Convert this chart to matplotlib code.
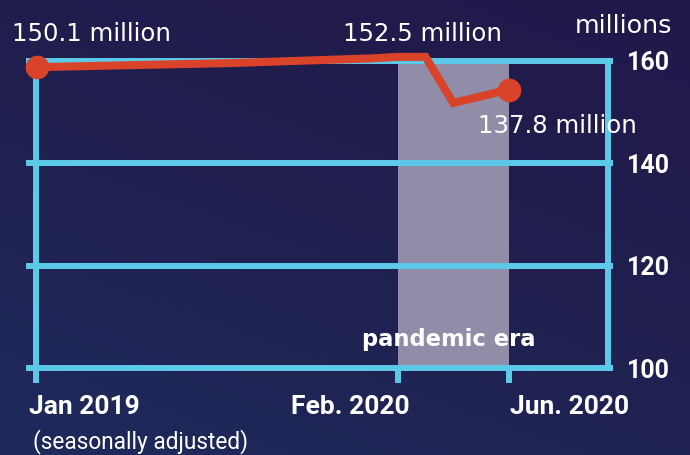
import numpy as np
import matplotlib
matplotlib.use("Agg")
import matplotlib.pyplot as plt
from matplotlib.colors import LinearSegmentedColormap

# ---------------- data ----------------
month_index = [0, 7, 12, 13, 14, 15, 16, 17]          # months since Jan 2019
employment = [158.8, 159.6, 160.5, 160.8, 160.8, 151.8, 153.1, 154.4]  # millions (as drawn)
y_ticks = [100, 120, 140, 160]
x_tick_pos = [0, 13, 17]
x_tick_labels = ["Jan 2019", "Feb. 2020", "Jun. 2020"]
pandemic_span = (13, 17)
annotations = ["150.1 million", "152.5 million", "137.8 million"]
unit_label = "millions"
note = "(seasonally adjusted)"
band_label = "pandemic era"

# ---------------- layout (pixel mapping) ----------------
W, H = 690, 455
X0_PX, X_PER = 37.0, 27.75        # px of month 0, px per month
Y160_PX, Y_PER = 61.0, 5.12       # px of value 160, px per unit

def px2x(px):
    return (px - X0_PX) / X_PER

def px2y(py):
    return 160 + (Y160_PX - py) / Y_PER

CYAN = "#5CC9E9"
RED = "#D8432A"
BAND = "#918CA8"
WHITE = "#FFFFFF"

fig = plt.figure(figsize=(W / 100, H / 100), dpi=100)
ax = fig.add_axes([0, 0, 1, 1])
xl = (px2x(0), px2x(W))
yl = (px2y(H), px2y(0))
ax.set_xlim(*xl)
ax.set_ylim(*yl)
ax.axis("off")

# background gradient
cmap = LinearSegmentedColormap.from_list("bg", ["#1E2A5C", "#20204F", "#22184A"])
gx, gy = np.meshgrid(np.linspace(0, 1, 200), np.linspace(0, 1, 200))
grad = 0.35 * gx + 0.65 * gy
ax.imshow(grad, cmap=cmap, extent=[xl[0], xl[1], yl[1], yl[0]], aspect="auto",
          zorder=0, origin="upper")

# pandemic band
ax.fill_between([pandemic_span[0], pandemic_span[1]], min(y_ticks), max(y_ticks),
                color=BAND, lw=0, zorder=1)

# grid lines
lw_grid = 4.3
ax.hlines(y_ticks, px2x(26), px2x(613), colors=CYAN, lw=lw_grid, zorder=2,
          capstyle="butt")
# left vertical (with Jan tick extension) and right vertical
ax.vlines(px2x(35.5), px2y(383), max(y_ticks), colors=CYAN, lw=lw_grid, zorder=2)
ax.vlines(px2x(607.5), min(y_ticks), max(y_ticks), colors=CYAN, lw=lw_grid, zorder=2)
# bottom ticks
ax.vlines(x_tick_pos[1:], px2y(383), min(y_ticks), colors=CYAN, lw=lw_grid, zorder=2)

# red line
ax.plot(month_index, employment, color=RED, lw=5.8, solid_joinstyle="miter",
        solid_capstyle="butt", zorder=4, clip_on=False)
ax.plot([month_index[0], month_index[-1]], [employment[0], employment[-1]],
        "o", color=RED, ms=16, zorder=5, clip_on=False)

# right tick labels
for t in y_ticks:
    ax.text(px2x(627), t - 9.5 / Y_PER, str(t), color=WHITE, fontsize=18,
            fontfamily="Roboto", fontweight="bold", ha="left", va="baseline", zorder=6)

ax.text(px2x(672), px2y(33), unit_label, color=WHITE, fontsize=18.3,
        ha="right", va="baseline", zorder=6)

# value annotations
ax.text(px2x(12), px2y(41), annotations[0], color=WHITE, fontsize=17.6,
        ha="left", va="baseline", zorder=6)
ax.text(px2x(343), px2y(41), annotations[1], color=WHITE, fontsize=17.6,
        ha="left", va="baseline", zorder=6)
ax.text(px2x(478), px2y(133), annotations[2], color=WHITE, fontsize=17.6,
        ha="left", va="baseline", zorder=6)

# band label
ax.text(np.mean(pandemic_span) - 0.15, px2y(346), band_label, color=WHITE,
        fontsize=16.3, fontweight="bold", ha="center", va="baseline", zorder=6)

# x tick labels
xlab_kw = dict(color=WHITE, fontsize=19, fontfamily="Roboto", fontweight="bold",
               va="baseline", zorder=6)
ax.text(px2x(29), px2y(414), x_tick_labels[0], ha="left", **xlab_kw)
ax.text(px2x(410), px2y(414), x_tick_labels[1], ha="right", **xlab_kw)
ax.text(px2x(510), px2y(414), x_tick_labels[2], ha="left", **xlab_kw)

ax.text(px2x(33), px2y(448), note, color=WHITE, fontsize=16.3, fontfamily="Roboto",
        ha="left", va="baseline", zorder=6)

fig.savefig("out.png", dpi=100)
